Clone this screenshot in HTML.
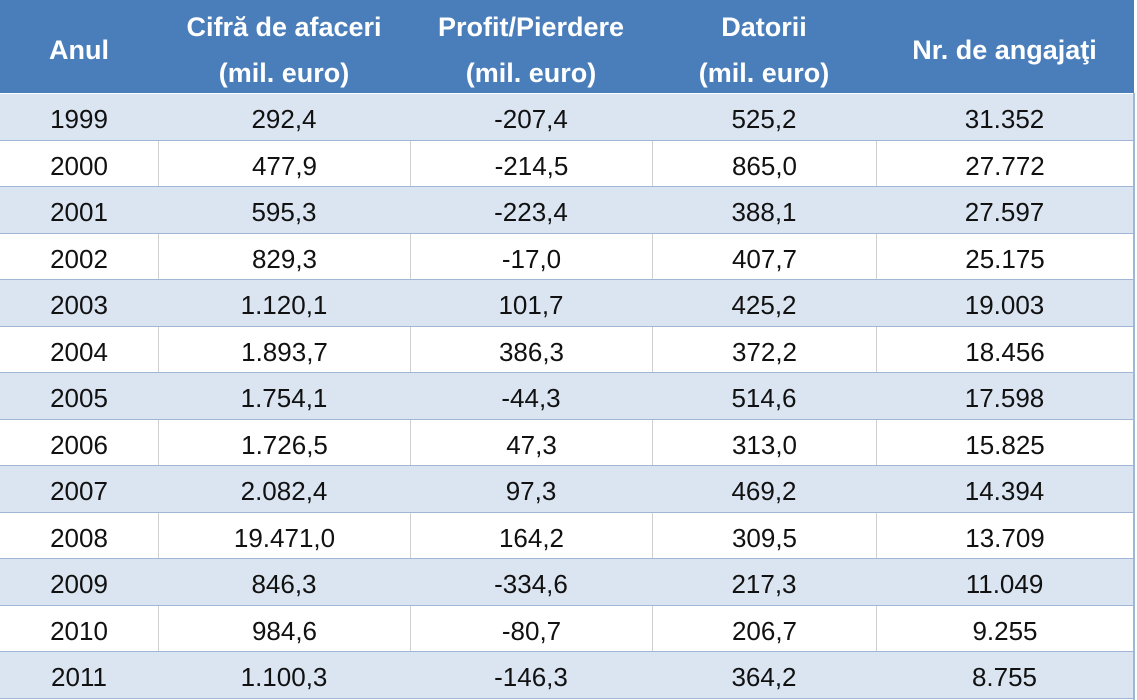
<!DOCTYPE html>
<html><head><meta charset="utf-8"><style>
body{margin:0;width:1137px;height:700px;overflow:hidden;background:#fff;font-family:"Liberation Sans",sans-serif;}
.hdr{position:absolute;left:0;top:0;width:1134px;height:93px;background:#4a7ebb;}
.h{position:absolute;color:#fff;font-weight:bold;font-size:27px;text-align:center;line-height:46px;white-space:nowrap;}
.row{position:absolute;left:0;width:1133px;height:46.5px;border-bottom:1.5px solid #9fb6d4;box-sizing:border-box;}
.odd{background:#dbe5f1;}
.c{position:absolute;top:2px;height:100%;text-align:center;font-size:26px;line-height:46px;color:#111;box-sizing:border-box;}
.even .c+ .c{border-left:1px solid #d0d0d0;top:0;line-height:50px;}
</style></head><body>
<div class="hdr"></div>
<div class="h" style="left:0;width:158px;top:2px;line-height:96px;">Anul</div>
<div class="h" style="left:158px;width:252px;top:4px;">Cifră de afaceri<br>(mil. euro)</div>
<div class="h" style="left:410px;width:242px;top:4px;">Profit/Pierdere<br>(mil. euro)</div>
<div class="h" style="left:652px;width:224px;top:4px;">Datorii<br>(mil. euro)</div>
<div class="h" style="left:876px;width:257px;top:4px;line-height:92px;">Nr. de angajaţi</div>
<div id="t"></div>
<script>
var d=[["1999","292,4","-207,4","525,2","31.352"],["2000","477,9","-214,5","865,0","27.772"],["2001","595,3","-223,4","388,1","27.597"],["2002","829,3","-17,0","407,7","25.175"],["2003","1.120,1","101,7","425,2","19.003"],["2004","1.893,7","386,3","372,2","18.456"],["2005","1.754,1","-44,3","514,6","17.598"],["2006","1.726,5","47,3","313,0","15.825"],["2007","2.082,4","97,3","469,2","14.394"],["2008","19.471,0","164,2","309,5","13.709"],["2009","846,3","-334,6","217,3","11.049"],["2010","984,6","-80,7","206,7","9.255"],["2011","1.100,3","-146,3","364,2","8.755"]];
var xs=[[0,158],[158,252],[410,242],[652,224],[876,257]],h="";
d.forEach(function(r,i){h+='<div class="row '+(i%2?'even':'odd')+'" style="top:'+(94+i*46.5)+'px">';
r.forEach(function(v,j){h+='<div class="c" style="left:'+xs[j][0]+'px;width:'+xs[j][1]+'px">'+v+'</div>';});h+='</div>';});
document.getElementById('t').innerHTML=h;
</script>
<div style="position:absolute;left:1133px;top:93px;width:2px;height:607px;background:#9fb6d4"></div>
</body></html>
